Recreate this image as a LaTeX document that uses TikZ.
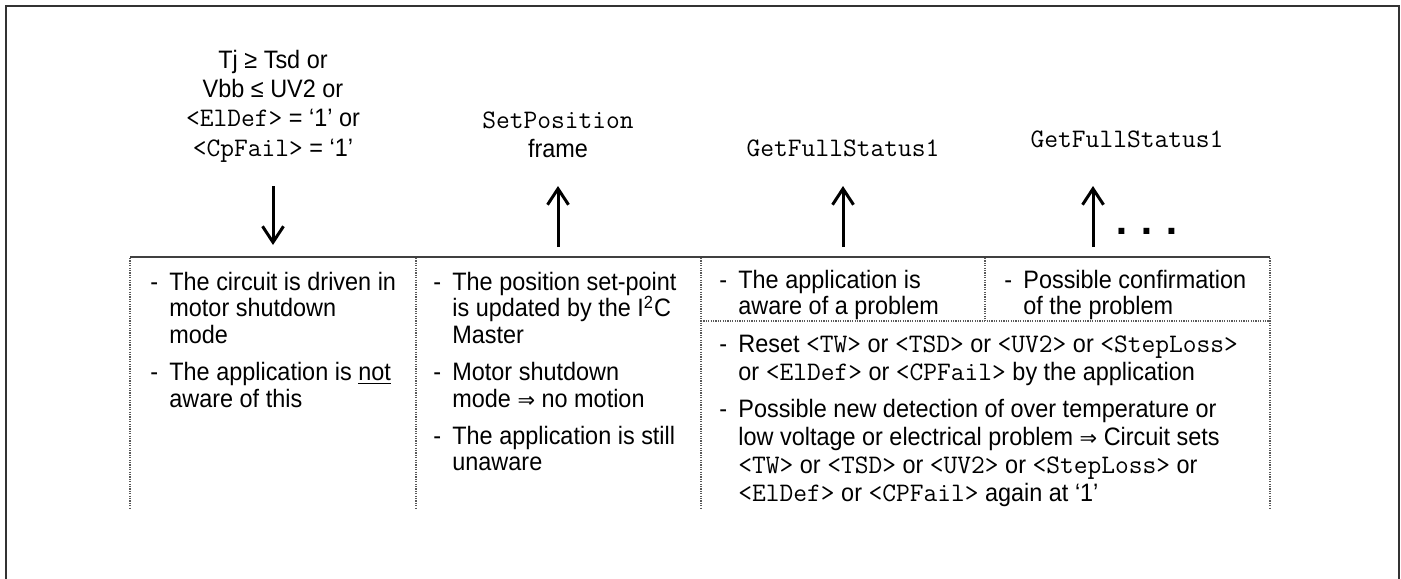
\documentclass[tikz,border=0pt]{standalone}
\usepackage{fontspec}
\setmainfont[FakeStretch=0.93]{Liberation Sans}
\setmonofont[Scale=1.06]{Latin Modern Mono}
\newfontfamily\symf{DejaVu Sans}
\newfontfamily\dotf{Liberation Mono}
\usetikzlibrary{arrows.meta}
\newcommand\itm[1]{\par\noindent\hangindent=9.5pt\hangafter=1\makebox[9.5pt][l]{-}#1\par}
\newcommand\imp{{\symf\fontsize{10.5pt}{12pt}\selectfont ⇒}}
\tikzset{
  framel/.style={line width=1pt, black!80},
  topline/.style={line width=1pt, black!75},
  dotln/.style={line width=0.6pt, dash pattern=on 0.6pt off 0.6pt, black!65},
  bigarrow/.style={line width=1.5pt, -{Straight Barb[length=8pt,width=10.5pt]}},
  lbl/.style={inner sep=0pt, anchor=base},
  cell/.style={inner sep=0pt, anchor=base west},
}
\begin{document}
\begin{tikzpicture}[x=0.5pt, y=-0.5pt, font=\fontsize{12.6pt}{13.4pt}\selectfont]
\useasboundingbox (0,0) rectangle (1401,578);
% outer frame
\draw[framel] (6,580) -- (6,6) -- (1399,6) -- (1399,580);

% top labels
\node[lbl] (l1) at (273,68) {\parbox[t]{200pt}{\centering\fontsize{12.6pt}{14.7pt}\selectfont
  Tj ≥ Tsd or\\ Vbb ≤ UV2 or\\ \texttt{<ElDef>} = ‘1’ or\\ \texttt{<CpFail>} = ‘1’}};
\node[lbl] (l2) at (558,128) {\parbox[t]{200pt}{\centering\fontsize{12.6pt}{14.7pt}\selectfont
  \texttt{SetPosition}\\ frame}};
\node[lbl] (l3) at (843,156) {\texttt{GetFullStatus1}};
\node[lbl] (l4) at (1127,147) {\texttt{GetFullStatus1}};
\node[lbl] (dots) at (1147,234) {\fontsize{20.7pt}{22pt}\selectfont\dotf\bfseries ...};

% arrows
\coordinate (a1s) at (273,186); \coordinate (a1e) at (273,245);
\coordinate (a2s) at (558,247); \coordinate (a2e) at (558,186);
\coordinate (a3s) at (843,247); \coordinate (a3e) at (843,186);
\coordinate (a4s) at (1093,247); \coordinate (a4e) at (1093,186);
\draw[bigarrow] (a1s) -- (a1e);
\draw[bigarrow] (a2s) -- (a2e);
\draw[bigarrow] (a3s) -- (a3e);
\draw[bigarrow] (a4s) -- (a4e);

% table lines
\draw[topline] (130,257) -- (1270,257);
\draw[dotln] (130,258) -- (130,508);
\draw[dotln] (416,258) -- (416,508);
\draw[dotln] (701,258) -- (701,508);
\draw[dotln] (985,258) -- (985,321);
\draw[dotln] (1270,258) -- (1270,508);
\draw[dotln] (701,321) -- (1270,321);

% cells
\node[cell] (c1) at (150,290) {\parbox[t]{135pt}{\raggedright\parskip=5pt
  \itm{The circuit is driven in\newline motor shutdown\newline mode}
  \itm{The application is \underline{not}\newline aware of this}}};
\node[cell] (c2) at (433,290) {\parbox[t]{135pt}{\raggedright\parskip=5pt
  \itm{The position set-point\newline is updated by the I\textsuperscript{2}C\newline Master}
  \itm{Motor shutdown\newline mode \imp{} no motion}
  \itm{The application is still\newline unaware}}};
\node[cell] (c3) at (719,288) {\parbox[t]{135pt}{\raggedright
  \itm{The application is\newline aware of a problem}}};
\node[cell] (c4) at (1004,288) {\parbox[t]{135pt}{\raggedright
  \itm{Possible confirmation\newline of the problem}}};
\node[cell] (c5) at (719,352) {\parbox[t]{280pt}{\raggedright\fontsize{12.6pt}{14.1pt}\selectfont\parskip=4.3pt
  \itm{Reset \texttt{<TW>} or \texttt{<TSD>} or \texttt{<UV2>} or \texttt{<StepLoss>}\newline or \texttt{<ElDef>} or \texttt{<CPFail>} by the application}
  \itm{Possible new detection of over temperature or\newline low voltage or electrical problem \imp{} Circuit sets\newline \texttt{<TW>} or \texttt{<TSD>} or \texttt{<UV2>} or \texttt{<StepLoss>} or\newline \texttt{<ElDef>} or \texttt{<CPFail>} again at ‘1’}}};
\end{tikzpicture}
\end{document}
